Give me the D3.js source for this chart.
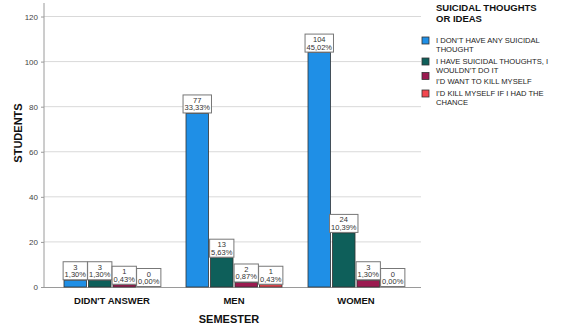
<!DOCTYPE html>
<html><head><meta charset="utf-8">
<script src="https://cdn.jsdelivr.net/npm/d3@7"></script>
<style>body{margin:0;background:#fff}svg{display:block;font-family:"Liberation Sans",Arial,sans-serif}</style>
</head><body><svg id="c" width="561" height="328"></svg>
<script>
const categories = ["DIDN'T ANSWER", "MEN", "WOMEN"];
const seriesNames = [
  ["I DON\u2019T HAVE ANY SUICIDAL", "THOUGHT"],
  ["I HAVE SUICIDAL THOUGHTS, I", "WOULDN\u2019T DO IT"],
  ["I\u2019D WANT TO KILL MYSELF"],
  ["I\u2019D KILL MYSELF IF I HAD THE", "CHANCE"]
];
const seriesColors = ["#1f8fe6", "#0e5f5a", "#9b1a50", "#f2474f"];
// values[series][category]
const values = [
  [3, 77, 104],
  [3, 13, 24],
  [1, 2, 3],
  [0, 1, 0]
];
const percents = [
  ["1,30%", "33,33%", "45,02%"],
  ["1,30%", "5,63%", "10,39%"],
  ["0,43%", "0,87%", "1,30%"],
  ["0,00%", "0,43%", "0,00%"]
];
const yTicks = [0, 20, 40, 60, 80, 100, 120];

const svg = d3.select("#c");
const plotL = 44, plotR = 421, plotB = 287, plotT = 3;
const y = d3.scaleLinear().domain([0, 126]).range([plotB, plotT]);
const x0 = d3.scaleBand().domain(categories).range([51, 417]);
const x1 = d3.scaleBand().domain(d3.range(4)).range([13, x0.bandwidth() - 13]).paddingInner(0.08);

// gridlines
svg.append("g").selectAll("line").data(yTicks.filter(d => d > 0)).join("line")
  .attr("x1", plotL).attr("x2", plotR)
  .attr("y1", d => y(d)).attr("y2", d => y(d))
  .attr("stroke", "#d9d9d9").attr("stroke-width", 1);

// y axis
const yAxis = d3.axisLeft(y).tickValues(yTicks).tickSize(3).tickPadding(3);
const gy = svg.append("g").attr("transform", `translate(${plotL},0)`).call(yAxis);
gy.select(".domain").attr("stroke", "#9a9a9a").attr("d", `M-0,${plotT}V${plotB}`);
gy.selectAll(".tick line").attr("stroke", "#9a9a9a");
gy.selectAll(".tick text").attr("fill", "#444").style("font-size", "8px").style("font-family", "Liberation Sans, Arial, sans-serif");
// x baseline
svg.append("line").attr("x1", plotL).attr("x2", plotR).attr("y1", plotB + 0.5).attr("y2", plotB + 0.5).attr("stroke", "#9a9a9a");

// bars
const flat = [];
values.forEach((row, s) => row.forEach((v, c) => flat.push({s, c, v, p: percents[s][c]})));
const bars = svg.append("g");
bars.selectAll("rect").data(flat.filter(d => d.v > 0)).join("rect")
  .attr("x", d => x0(categories[d.c]) + x1(d.s))
  .attr("y", d => y(d.v))
  .attr("width", x1.bandwidth())
  .attr("height", d => y(0) - y(d.v))
  .attr("fill", d => seriesColors[d.s])
  .attr("stroke", "#333").attr("stroke-width", 0.8);

// value labels
const lab = svg.append("g").selectAll("g").data(flat).join("g")
  .attr("transform", d => `translate(${x0(categories[d.c]) + x1(d.s) + x1.bandwidth() / 2},${y(d.v)})`);
lab.each(function(d) {
  const g = d3.select(this);
  const t1 = g.append("text").attr("text-anchor", "middle").attr("y", -10.5).attr("fill", "#333")
    .style("font-size", "7.5px").text(d.v);
  const t2 = g.append("text").attr("text-anchor", "middle").attr("y", -3).attr("fill", "#333")
    .style("font-size", "7.5px").text(d.p);
  const w = Math.max(t1.node().getComputedTextLength(), t2.node().getComputedTextLength()) + 3;
  g.insert("rect", "text").attr("x", -w / 2).attr("y", -18.5).attr("width", w).attr("height", 18)
    .attr("fill", "#fff").attr("stroke", "#777").attr("stroke-width", 1);
});

// category labels
svg.append("g").selectAll("text").data(categories).join("text")
  .attr("x", d => x0(d) + x0.bandwidth() / 2).attr("y", 304)
  .attr("text-anchor", "middle").attr("fill", "#111")
  .style("font-size", "9.5px").style("font-weight", "bold").text(d => d);

// axis titles
svg.append("text").attr("x", 229).attr("y", 323).attr("text-anchor", "middle")
  .style("font-size", "11px").style("font-weight", "bold").attr("fill", "#111").text("SEMESTER");
svg.append("text").attr("transform", "translate(22,133) rotate(-90)").attr("text-anchor", "middle")
  .style("font-size", "11px").style("font-weight", "bold").attr("fill", "#111").text("STUDENTS");

// legend
const leg = svg.append("g");
leg.append("text").attr("x", 436).attr("y", 11).style("font-size", "9.5px").style("font-weight", "bold")
  .attr("fill", "#111").text("SUICIDAL THOUGHTS");
leg.append("text").attr("x", 436).attr("y", 22).style("font-size", "9.5px").style("font-weight", "bold")
  .attr("fill", "#111").text("OR IDEAS");
const itemY = [43, 64, 84, 96];
seriesNames.forEach((lines, i) => {
  const yy = itemY[i];
  const sy = lines.length > 1 ? yy - 1 : yy - 6.5;
  leg.append("rect").attr("x", 422).attr("y", sy - 5).attr("width", 7).attr("height", 7)
    .attr("fill", seriesColors[i]).attr("stroke", "#333").attr("stroke-width", 0.8);
  lines.forEach((ln, j) => {
    leg.append("text").attr("x", 436).attr("y", yy + j * 8.5).style("font-size", "7.6px")
      .attr("fill", "#222").text(ln);
  });
});
</script></body></html>
